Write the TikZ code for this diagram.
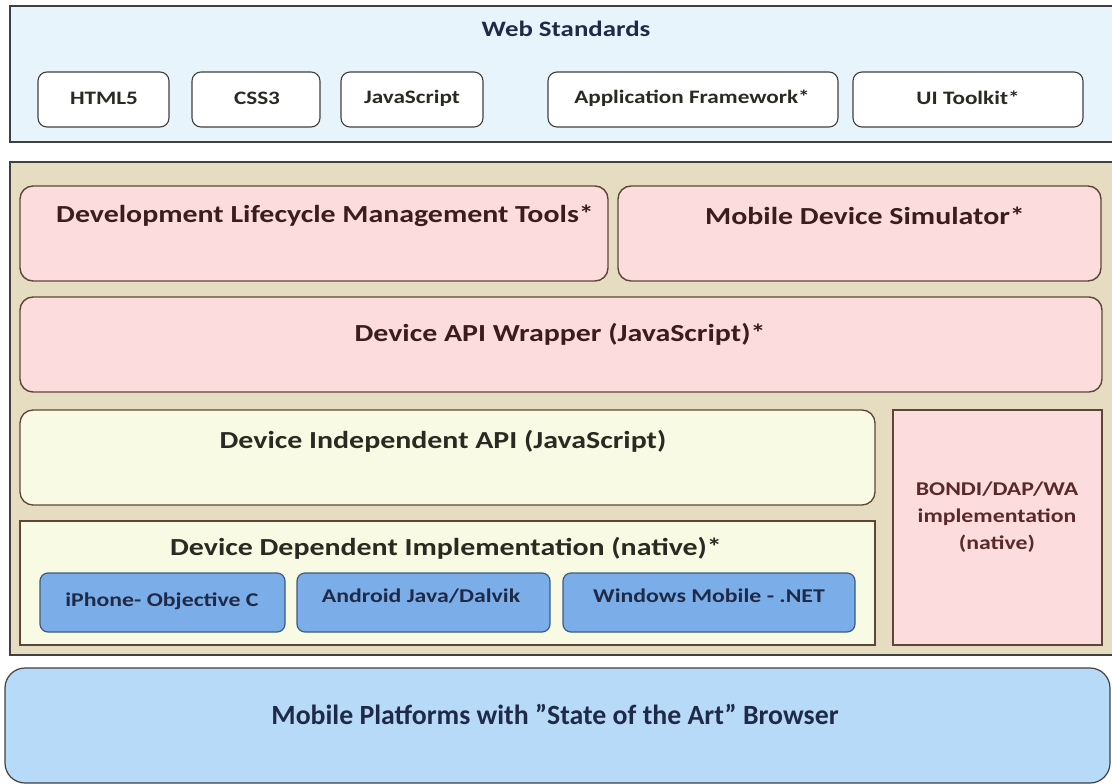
\documentclass[tikz,border=0pt]{standalone}
\usepackage{fontspec}
\setmainfont{Carlito}
\newfontfamily\wfont[FakeStretch=1.22]{Carlito}
\definecolor{wsblue}{HTML}{E7F4FB}
\definecolor{tanfill}{HTML}{E5DCC1}
\definecolor{pinkfill}{HTML}{FCDCDC}
\definecolor{yelfill}{HTML}{F9FAE3}
\definecolor{btnblue}{HTML}{7BAEE8}
\definecolor{btnborder}{HTML}{3F5A80}
\definecolor{platblue}{HTML}{B7DAF8}
\definecolor{frame}{HTML}{404040}
\definecolor{brownb}{HTML}{5E4636}
\definecolor{navy}{HTML}{1F2A48}
\definecolor{browntext}{HTML}{3A1E1E}
\definecolor{darktext}{HTML}{2A2A22}
\definecolor{bondi}{HTML}{5A2A2A}
\tikzset{
  panel/.style={draw=frame, line width=1.2pt},
  whitebtn/.style={fill=white, draw=frame, line width=1.1pt, rounded corners=9pt},
  pinkbox/.style={fill=pinkfill, draw=brownb, line width=1.4pt, rounded corners=13pt},
  yelbox/.style={fill=yelfill, draw=brownb, line width=1.3pt, rounded corners=13pt},
  yelrect/.style={fill=yelfill, draw=brownb, line width=1.3pt},
  bluebtn/.style={fill=btnblue, draw=btnborder, line width=1.2pt, rounded corners=8pt},
  platbox/.style={fill=platblue, draw=frame, line width=1.2pt, rounded corners=20pt},
  lbl/.style={inner sep=0pt},
  big/.style={lbl, font=\wfont\bfseries\fontsize{24.5}{26}\selectfont},
  small/.style={lbl, text=darktext, font=\wfont\bfseries\fontsize{19}{21}\selectfont},
  btn/.style={lbl, text=navy, font=\wfont\bfseries\fontsize{19.5}{21}\selectfont},
}
\begin{document}
\begin{tikzpicture}[x=1pt,y=-1pt]
\useasboundingbox (0,0) rectangle (1112,784);
\fill[white] (0,0) rectangle (1112,784);
% Web standards
\draw[panel, fill=wsblue] (10,6) rectangle (1114,142);
\node[lbl, text=navy, font=\wfont\bfseries\fontsize{22}{24}\selectfont] (ws) at (566,29) {Web Standards};
\draw[whitebtn] (38,72) rectangle (169,127);
\node[small] (html) at (104,98) {HTML5};
\draw[whitebtn] (192,72) rectangle (320,127);
\node[small] (css) at (257,98) {CSS3};
\draw[whitebtn] (341,72) rectangle (483,127);
\node[small] (js) at (412,98) {JavaScript};
\draw[whitebtn] (548,72) rectangle (838,127);
\node[small] (af) at (692,98) {Application Framework*};
\draw[whitebtn] (853,72) rectangle (1083,127);
\node[small] (ui) at (968,98) {UI Toolkit*};
% tan panel
\draw[panel, fill=tanfill] (10,162) rectangle (1114,655);
\draw[pinkbox] (20,186) rectangle (608,281);
\node[big, text=browntext] (dlm) at (325,216) {Development Lifecycle Management Tools*};
\draw[pinkbox] (618,186) rectangle (1101,281);
\node[big, text=browntext] (sim) at (865,216) {Mobile Device Simulator*};
\draw[pinkbox] (20,297) rectangle (1102,392);
\node[big, text=browntext] (wrap) at (560,334) {Device API Wrapper (JavaScript)*};
\draw[yelbox] (20,410) rectangle (875,505);
\node[big, text=darktext] (dia) at (443,441) {Device Independent API (JavaScript)};
\draw[yelrect] (20,521) rectangle (875,645);
\node[big, text=darktext] (ddi) at (446,548) {Device Dependent Implementation (native)*};
\draw[bluebtn] (40,573) rectangle (285,632);
\node[btn] (iph) at (162,601) {iPhone- Objective C};
\draw[bluebtn] (297,573) rectangle (550,632);
\node[btn] (and) at (421,596) {Android Java/Dalvik};
\draw[bluebtn] (563,573) rectangle (855,632);
\node[btn] (win) at (709,596) {Windows Mobile - .NET};
\draw[pinkfill, fill=pinkfill] (893,410) rectangle (1102,645);
\draw[brownb, line width=1.3pt] (893,410) rectangle (1102,645);
\node[lbl, text=bondi, align=center, font=\wfont\bfseries\fontsize{19.5}{27}\selectfont] (bondi) at (997,517) {BONDI/DAP/WA\\implementation\\(native)};
% platform
\draw[platbox] (5,668) rectangle (1110,783);
\node[lbl, text=navy, font=\bfseries\fontsize{27.8}{30}\selectfont] (plat) at (555,714) {Mobile Platforms with ''State of the Art'' Browser};
\end{tikzpicture}
\end{document}
